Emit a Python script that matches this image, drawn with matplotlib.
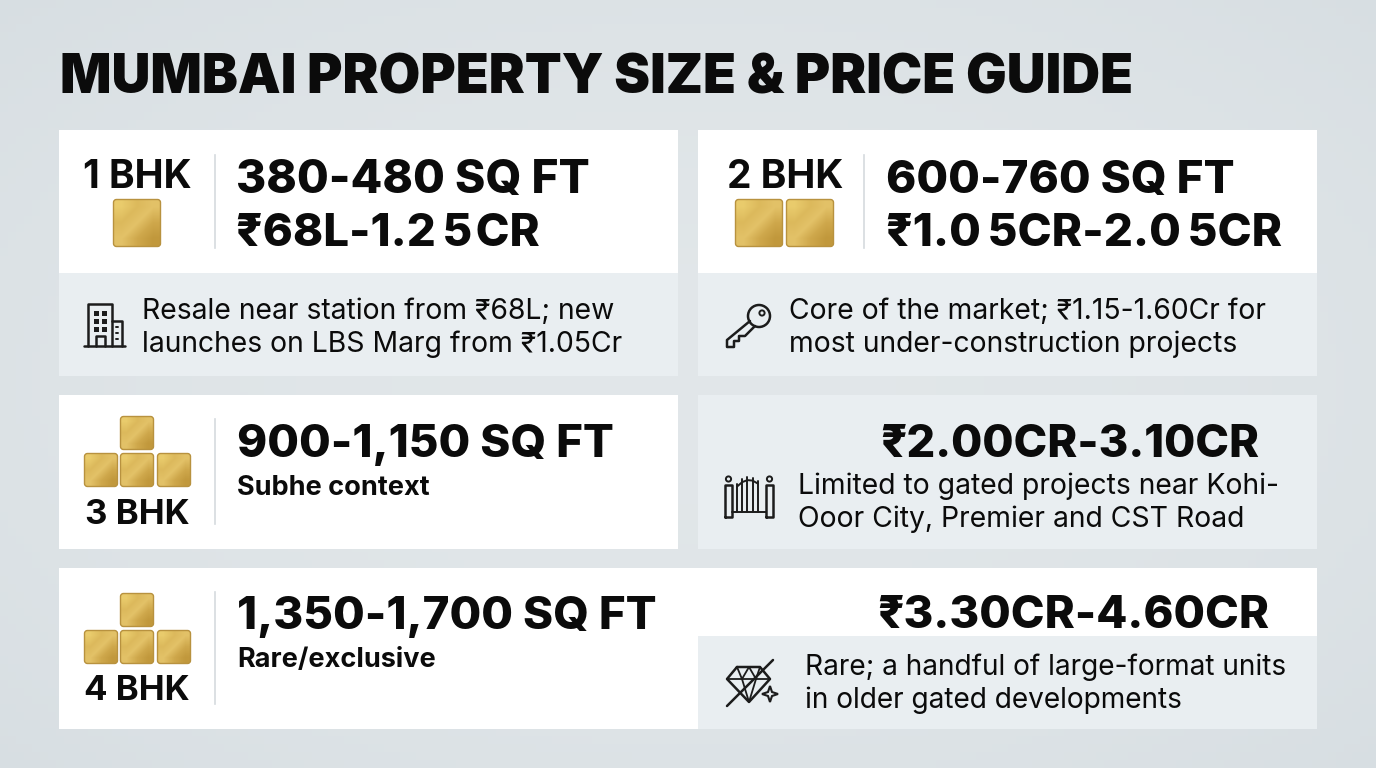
import numpy as np
import matplotlib
matplotlib.use("Agg")
import matplotlib.pyplot as plt
from matplotlib.patches import Rectangle, FancyBboxPatch, Circle, Polygon

# text content
title = "MUMBAI PROPERTY SIZE & PRICE GUIDE"
bhk_labels = ["1 BHK", "2 BHK", "3 BHK", "4 BHK"]
sizes = ["380-480 SQ FT", "600-760 SQ FT", "900-1,150 SQ FT", "1,350-1,700 SQ FT"]
prices = ["₹68L-1.2\u20095\u200aCR", "₹1.0\u20095CR-2.0\u20095CR", "₹2.00CR-3.10CR", "₹3.30CR-4.60CR"]
sublabels = ["Subhe context", "Rare/exclusive"]
notes = [
    "Resale near station from ₹68L; new\nlaunches on LBS Marg from ₹1.05Cr",
    "Core of the market; ₹1.15-1.60Cr for\nmost under-construction projects",
    "Limited to gated projects near Kohi-\nOoor City, Premier and CST Road",
    "Rare; a handful of large-format units\nin older gated developments",
]

FONT = ["Inter", "DejaVu Sans"]
INK = "#0b0b0b"
ICON = "#1c1c1c"
WHITE = "#ffffff"
PANEL = "#e9eef1"
LINE = "#d5dade"

fig = plt.figure(figsize=(13.76, 7.68), dpi=100)
ax = fig.add_axes([0, 0, 1, 1])
ax.set_xlim(0, 1376)
ax.set_ylim(768, 0)
ax.axis("off")

# background, a bit lighter in the middle
yy, xx = np.mgrid[0:1:96j, 0:1:172j]
bg = (((xx - 0.5) * 2) ** 2 + ((yy - 0.5) * 2) ** 2) / 2
base = np.array([0.845, 0.872, 0.888])
top = np.array([0.885, 0.905, 0.915])
img = top + (base - top) * bg[..., None]
ax.imshow(img, extent=(0, 1376, 768, 0), aspect="auto", zorder=0)


def box(x0, y0, x1, y1, color):
    ax.add_patch(Rectangle((x0, y0), x1 - x0, y1 - y0, fc=color, ec="none", zorder=1))


def txt(x, y, s, size, weight="bold", ha="left", va="center", **kw):
    return ax.text(x, y, s, fontsize=size, fontweight=weight, ha=ha, va=va,
                   color=INK, family=FONT, zorder=5, **kw)


def divider(x, y0, y1):
    ax.plot([x, x], [y0, y1], color=LINE, lw=1.2, zorder=3)


gold_map = matplotlib.colors.LinearSegmentedColormap.from_list(
    "gold", ["#e9cb6c", "#dcb95c", "#e3c268", "#cfa84c", "#c1983c"])


def gold(cx, cy, s):
    # rounded gold tile with a diagonal shine
    grad = np.array([[0.00, 0.25, 0.50], [0.25, 0.50, 0.75], [0.50, 0.75, 1.00]])
    im = ax.imshow(grad, extent=(cx - s / 2, cx + s / 2, cy + s / 2, cy - s / 2),
                   cmap=gold_map, interpolation="bilinear", aspect="auto", zorder=3)
    p = FancyBboxPatch((cx - s / 2 + 2, cy - s / 2 + 2), s - 4, s - 4,
                       boxstyle="round,pad=2,rounding_size=3",
                       fc="none", ec="#b8923f", lw=1.0, zorder=4)
    ax.add_patch(p)
    im.set_clip_path(p)


def stroke(xs, ys, lw=1.8):
    ax.plot(xs, ys, color=ICON, lw=lw, solid_capstyle="round",
            solid_joinstyle="round", zorder=5)


def icon_building(x, y):
    stroke([x, x + 41], [y + 42, y + 42])
    stroke([x + 4, x + 4, x + 28, x + 28], [y + 42, y, y, y + 42])
    stroke([x + 28, x + 38, x + 38], [y + 17, y + 17, y + 42])
    stroke([x + 12, x + 12, x + 21, x + 21], [y + 42, y + 32, y + 32, y + 42])
    for r in range(3):
        for c in range(2):
            ax.add_patch(Rectangle((x + 10 + c * 8, y + 7 + r * 8), 4.5, 4.5, fc=ICON, ec="none", zorder=5))
    for r in range(3):
        stroke([x + 32, x + 34], [y + 23 + r * 6, y + 23 + r * 6], 1.4)


def icon_key(x, y):
    ax.add_patch(Circle((x + 33, y + 11), 11, fc="none", ec=ICON, lw=1.8, zorder=5))
    ax.add_patch(Circle((x + 36, y + 8), 2.6, fc="none", ec=ICON, lw=1.4, zorder=5))
    stroke([x + 24, x + 1, x + 1, x + 8, x + 8, x + 13, x + 13, x + 19, x + 29],
           [y + 16, y + 35, y + 42, y + 42, y + 36, y + 36, y + 31, y + 31, y + 21])


def icon_gate(x, y):
    for dx in (0, 41):
        stroke([x + dx, x + dx, x + dx + 7, x + dx + 7, x + dx], [y + 42, y + 10, y + 10, y + 42, y + 42])
        ax.add_patch(Circle((x + dx + 3.5, y + 4), 2.6, fc="none", ec=ICON, lw=1.4, zorder=5))
    stroke([x + 7, x + 41], [y + 37, y + 37], 1.4)
    bar_x = np.arange(12, 38, 5.2)
    arc = 5 + 9 * ((bar_x - 24) / 14) ** 2
    stroke(x + bar_x, y + arc, 1.4)
    for bx, a in zip(bar_x, arc):
        stroke([x + bx, x + bx], [y + a - 3, y + 37], 1.4)


def icon_diamond(x, y):
    stroke([x + 10, x + 33, x + 43, x + 22, x, x + 10], [y + 8, y + 8, y + 20, y + 43, y + 20, y + 8])
    stroke([x, x + 43], [y + 20, y + 20], 1.3)
    stroke([x + 10, x + 15, x + 22, x + 29, x + 33], [y + 8, y + 20, y + 8, y + 20, y + 8], 1.3)
    stroke([x + 15, x + 22, x + 29], [y + 20, y + 43, y + 20], 1.3)
    stroke([x, x + 46], [y + 47, y + 1], 1.8)
    sx, sy = x + 43, y + 35
    star = [(sx - 8, sy), (sx - 2, sy - 2), (sx, sy - 8), (sx + 2, sy - 2),
            (sx + 8, sy), (sx + 2, sy + 2), (sx, sy + 8), (sx - 2, sy + 2)]
    ax.add_patch(Polygon(star, closed=True, fc="none", ec=ICON, lw=1.5, zorder=5))


# cards
box(59, 130, 678, 273, WHITE)
box(59, 273, 678, 376, PANEL)
box(698, 130, 1317, 273, WHITE)
box(698, 273, 1317, 376, PANEL)
box(59, 395, 678, 549, WHITE)
box(698, 395, 1317, 549, PANEL)
box(59, 568, 698, 729, WHITE)
box(698, 568, 1317, 636, WHITE)
box(698, 636, 1317, 729, PANEL)

divider(215, 155, 248)
divider(864, 155, 248)
divider(215, 419, 524)
divider(215, 592, 704)

txt(60, 79, title, 38.8, weight="black")

# bhk labels
txt(137, 177, bhk_labels[0], 28, ha="center")
txt(785, 177, bhk_labels[1], 28, ha="center")
txt(137, 515, bhk_labels[2], 25, ha="center")
txt(137, 691, bhk_labels[3], 25, ha="center")

# gold tiles
gold(137, 223, 47)
gold(759, 223, 47)
gold(810, 223, 47)
for top_y in (433, 610):
    gold(137, top_y, 33)
    for cx in (101, 137, 174):
        gold(cx, top_y + 37, 33)

# sizes and prices
txt(236, 181, sizes[0], 33.2, weight="heavy")
txt(236, 234, prices[0], 32.8, weight="heavy")
txt(886, 181, sizes[1], 33.0, weight="heavy")
txt(886, 234, prices[1], 33.0, weight="heavy")
txt(237, 445, sizes[2], 32.9, weight="heavy")
txt(237, 488, sublabels[0], 19.5)
txt(237, 617, sizes[3], 32.9, weight="heavy")
txt(237, 660, sublabels[1], 19.5)
txt(880, 445, prices[2], 32.6, weight="heavy")
txt(877, 616, prices[3], 32.7, weight="heavy")

# notes
txt(142, 328, notes[0], 20.4, weight="normal", linespacing=1.27)
txt(789, 328, notes[1], 20.4, weight="normal", linespacing=1.27)
txt(798, 503, notes[2], 20.4, weight="normal", linespacing=1.27)
txt(805, 684, notes[3], 20.2, weight="normal", linespacing=1.27)

icon_building(84, 304)
icon_key(726, 305)
icon_gate(725, 475)
icon_diamond(727, 659)

ax.set_xlim(0, 1376)
ax.set_ylim(768, 0)
fig.savefig("out.png", dpi=100)
